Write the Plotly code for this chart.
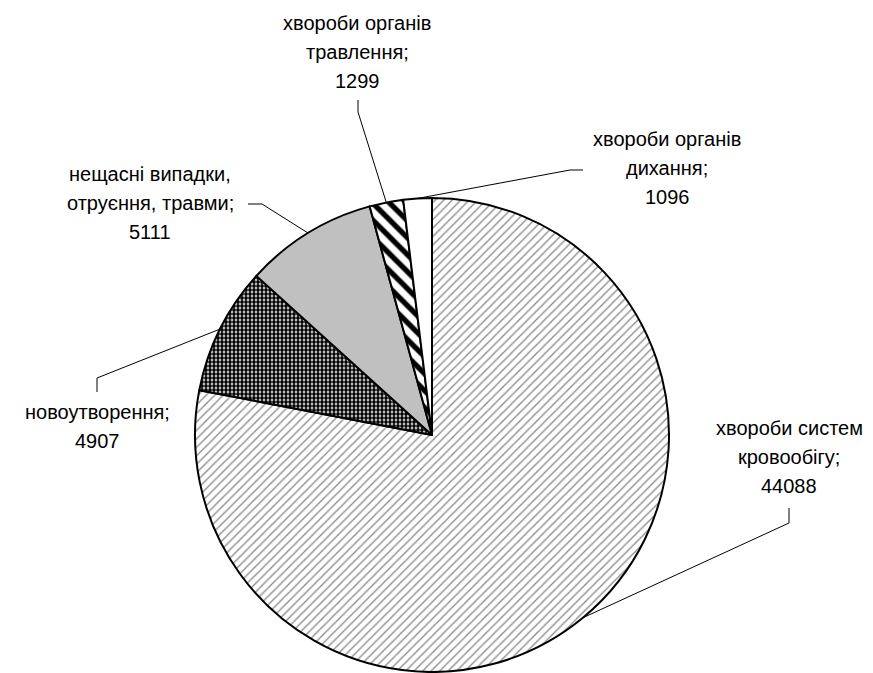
import math
import plotly.graph_objects as go

# ---- data ----
categories = [
    "хвороби систем кровообігу",
    "новоутворення",
    "нещасні випадки, отруєння, травми",
    "хвороби органів травлення",
    "хвороби органів дихання",
]
values = [44088, 4907, 5111, 1299, 1096]
label_lines = [
    ["хвороби систем", "кровообігу;", "44088"],
    ["новоутворення;", "4907"],
    ["нещасні випадки,", "отруєння, травми;", "5111"],
    ["хвороби органів", "травлення;", "1299"],
    ["хвороби органів", "дихання;", "1096"],
]

# ---- styles ----
pattern_shape = ["/", ".", "", "\\", ""]
pattern_fg = ["#8a8a8a", "#000000", "#000000", "#000000", "#000000"]
pattern_bg = ["#ffffff", "#ffffff", "#c0c0c0", "#ffffff", "#ffffff"]
pattern_size = [6, 4, 8, 12, 8]
pattern_sol = [0.22, 0.7, 0.3, 0.45, 0.3]
fill_colors = ["#ffffff", "#ffffff", "#c0c0c0", "#ffffff", "#ffffff"]

OFF = 8  # page body margin
W, H = 873 - OFF, 673 - OFF
CX, CY, R = 432, 435, 237
FS = 20
LINE_H = 29

# label layout: (center x, baseline of first line) and leader (start, elbow) in window px
label_pos = [(789, 436), (97, 420), (150, 182), (357, 31), (667, 147)]
leader_start = [(789, 508), (97, 392), (248, 204), (358, 100), (583, 170)]
leader_elbow = [(789, 523), (97, 378), (262, 204), (358, 112), (570, 170)]


def px(x):
    return (x - OFF) / W


def py(y):
    return 1 - (y - OFF) / H


fig = go.Figure(
    go.Pie(
        labels=categories,
        values=values,
        sort=False,
        direction="clockwise",
        rotation=0,
        textinfo="none",
        hoverinfo="label+value",
        showlegend=False,
        marker=dict(
            colors=fill_colors,
            line=dict(color="#000000", width=2),
            pattern=dict(
                shape=pattern_shape,
                fgcolor=pattern_fg,
                bgcolor=pattern_bg,
                size=pattern_size,
                solidity=pattern_sol,
                fillmode="replace",
            ),
        ),
        domain=dict(x=[px(CX - R), px(CX + R)], y=[py(CY + R), py(CY - R)]),
    )
)

total = sum(values)
annotations = []
shapes = []
cum = 0
for i, v in enumerate(values):
    mid = (cum + v / 2) / total * 2 * math.pi
    cum += v
    ex = CX + R * math.sin(mid)
    ey = CY - R * math.cos(mid)
    sx, sy = leader_start[i]
    bx, by = leader_elbow[i]
    shapes.append(
        dict(
            type="path",
            xref="paper",
            yref="paper",
            path=f"M {px(sx)} {py(sy)} L {px(bx)} {py(by)} L {px(ex)} {py(ey)}",
            line=dict(color="#000000", width=1),
        )
    )
    lx, lb = label_pos[i]
    for j, line in enumerate(label_lines[i]):
        base = lb + j * LINE_H
        annotations.append(
            dict(
                x=px(lx),
                y=py(base - 8),
                xref="paper",
                yref="paper",
                text=line,
                showarrow=False,
                xanchor="center",
                yanchor="middle",
                font=dict(family="Liberation Sans, Arial, sans-serif", size=FS, color="#000000"),
            )
        )

fig.update_layout(
    width=W,
    height=H,
    margin=dict(l=0, r=0, t=0, b=0),
    paper_bgcolor="#ffffff",
    plot_bgcolor="#ffffff",
    annotations=annotations,
    shapes=shapes,
)

fig.write_html("out.html")
